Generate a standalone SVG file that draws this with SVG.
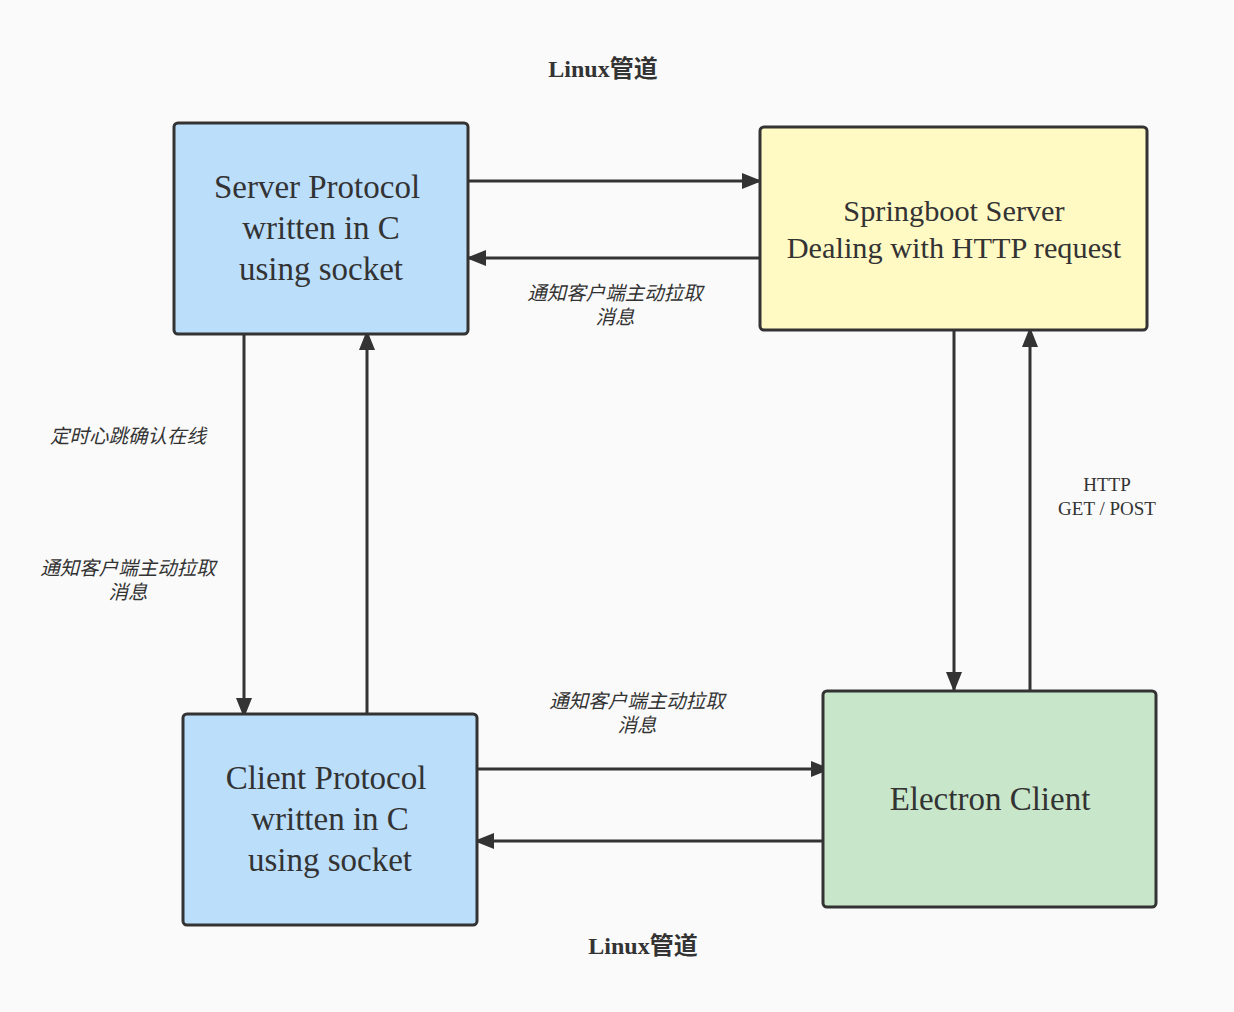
<svg xmlns="http://www.w3.org/2000/svg" width="1234" height="1012" viewBox="0 0 1234 1012">
<style>
.box{stroke:#333;stroke-width:3}
.nt{font-family:"Liberation Serif",serif;fill:#333;text-anchor:middle}
.cn{font-family:"Noto Sans CJK SC",sans-serif;font-style:italic;font-size:19.5px;fill:#333;text-anchor:middle}
.title{font-family:"Liberation Serif","Noto Sans CJK SC",serif;font-weight:bold;font-size:24px;fill:#333;text-anchor:middle}
.edge{stroke:#333;stroke-width:3;fill:none;marker-end:url(#arr)}
.lbl{font-family:"Liberation Serif",serif;font-size:19px;fill:#333;text-anchor:middle}
</style>
<defs>
<marker id="arr" markerUnits="userSpaceOnUse" markerWidth="22" markerHeight="18" refX="20" refY="9" orient="auto">
<path d="M0,1 L20,9 L0,17 Z" fill="#333"/>
</marker>
</defs>
<rect width="1234" height="1012" fill="#fafafa"/>
<text class="title" x="603" y="77">Linux管道</text>
<text class="title" x="643" y="954">Linux管道</text>
<g id="connectors">
<line class="edge" x1="468" y1="181" x2="762" y2="181"/>
<line class="edge" x1="760" y1="258" x2="466" y2="258"/>
<line class="edge" x1="244" y1="334" x2="244" y2="718"/>
<line class="edge" x1="367" y1="714" x2="367" y2="330"/>
<line class="edge" x1="954" y1="330" x2="954" y2="692"/>
<line class="edge" x1="1030" y1="691" x2="1030" y2="327"/>
<line class="edge" x1="477" y1="769" x2="831" y2="769"/>
<line class="edge" x1="827" y1="841" x2="474" y2="841"/>
<text class="cn" x="615" y="300">通知客户端主动拉取<tspan x="615" dy="24">消息</tspan></text>
<text class="cn" x="128" y="443">定时心跳确认在线</text>
<text class="cn" x="128" y="575">通知客户端主动拉取<tspan x="128" dy="24">消息</tspan></text>
<text class="cn" x="637" y="708">通知客户端主动拉取<tspan x="637" dy="24">消息</tspan></text>
<text class="lbl" x="1107" y="491">HTTP<tspan x="1107" dy="24">GET / POST</tspan></text>
</g>
<g id="server">
<rect class="box" x="174" y="123" width="294" height="211" rx="4" fill="#bbdefb"/>
<text class="nt" font-size="33" x="317" y="198">Server Protocol</text>
<text class="nt" font-size="33" x="321" y="239">written in C</text>
<text class="nt" font-size="33" x="321" y="280">using socket</text>
</g>
<g id="springboot">
<rect class="box" x="760" y="127" width="387" height="203" rx="4" fill="#fff9c4"/>
<text class="nt" font-size="30.3" x="954" y="221">Springboot Server</text>
<text class="nt" font-size="30.3" x="954" y="258">Dealing with HTTP request</text>
</g>
<g id="client">
<rect class="box" x="183" y="714" width="294" height="211" rx="4" fill="#bbdefb"/>
<text class="nt" font-size="33" x="326" y="789">Client Protocol</text>
<text class="nt" font-size="33" x="330" y="830">written in C</text>
<text class="nt" font-size="33" x="330" y="871">using socket</text>
</g>
<g id="electron">
<rect class="box" x="823" y="691" width="333" height="216" rx="4" fill="#c8e6c9"/>
<text class="nt" font-size="33" x="990" y="810">Electron Client</text>
</g>
</svg>
